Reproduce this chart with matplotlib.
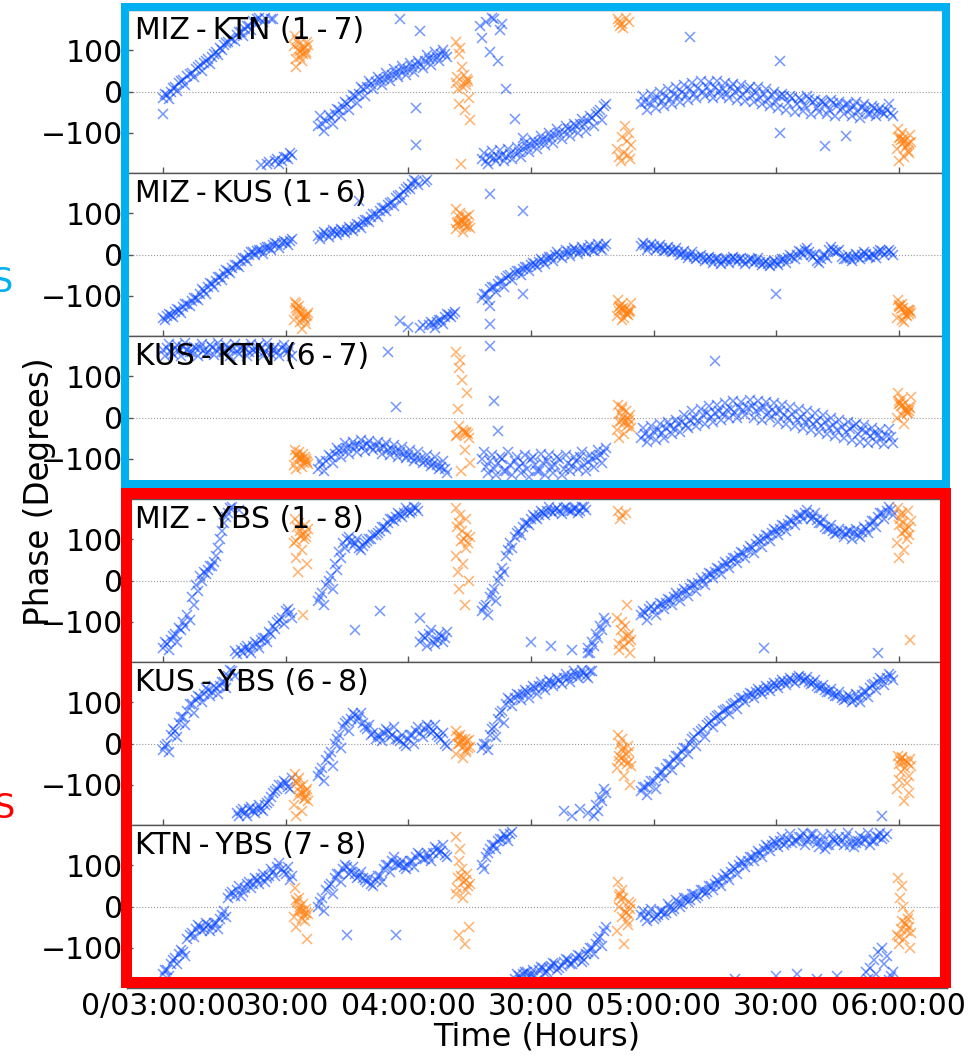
import numpy as np
import matplotlib
matplotlib.use("Agg")
import matplotlib.pyplot as plt
from matplotlib.patches import Rectangle

# ---------------- data (minutes after 03:00, phase in degrees) ----------------
SEG_START = [0, 38, 78, 117]          # start minute of each target scan
CAL_START = [32, 71.5, 111, 179.5]    # start minute of each calibrator scan
CAL_DT = [0.3, 2.1, 1.2, 3.0, 0.8, 2.6, 1.6, 0.1, 2.9, 1.9, 0.6, 3.3, 1.0, 2.3, 3.5,
          1.4, 0.5, 2.7, 1.8, 3.2]   # sample times inside a calibrator scan

LABELS = ["MIZ\u2009-\u2009KTN (1\u2009-\u20097)", "MIZ\u2009-\u2009KUS (1\u2009-\u20096)",
          "KUS\u2009-\u2009KTN (6\u2009-\u20097)", "MIZ\u2009-\u2009YBS (1\u2009-\u20098)",
          "KUS\u2009-\u2009YBS (6\u2009-\u20098)", "KTN\u2009-\u2009YBS (7\u2009-\u20098)"]

TICK_MIN = [0, 30, 60, 90, 120, 150, 180]
TICK_LABELS = ["0/03:00:00", "30:00", "04:00:00", "30:00", "05:00:00", "30:00", "06:00:00"]

# ---- panel 1 : MIZ-KTN  (x = first read, x2 = second read half a minute later)
p1_a = [-15, -8, 0, 10, 20, 28, 38, 45, 55, 65, 70, 78, 85, 95, 105, 112, 120, 128, 138,
        145, 152, 158, 172, 176, -178, 179, -172, 177, -165, -168, -158, -150]
p1_a2 = [-5, -18, 8, 2, 25, 15, 42, 35, 60, 50, 75, 68, 92, 88, 100, 118, 130, 122, 145,
         135, 160, 150, 165, 178, 170, -175, 175, -168, -175, -160, -165, -155]
p1_b = [-85, -80, -72, -65, -55, -45, -38, -30, -20, -12, -5, 5, 12, 18, 22, 28, 30, 35,
        40, 45, 50, 52, 55, 60, 65, 68, 75, 80, 82, 85, 90, 92]
p1_b2 = [-60, -95, -58, -78, -42, -60, -25, -45, -8, -28, 10, -10, 25, 5, 35, 15, 45, 25,
         55, 35, 62, 40, 70, 48, 75, 58, 88, 65, 95, 75, 100, 85]
p1_c = [-165, -168, -160, -162, -158, -155, -160, -152, -150, -148, -140, -135, -130,
        -125, -122, -118, -115, -110, -105, -100, -98, -92, -90, -85, -80, -78, -72,
        -65, -55, -45, -35]
p1_c2 = [-150, -175, -145, -170, -142, -168, -140, -165, -135, -158, -125, -148, -118,
         -140, -108, -130, -100, -125, -92, -115, -85, -108, -78, -100, -68, -95, -60,
         -85, -50, -70, -30]
p1_d = [-30, -25, -28, -20, -15, -22, -10, -18, -5, -12, 0, -8, 5, -5, 8, 0, 10, -3, 12,
        2, 5, -5, 10, 0, 3, -8, 5, -10, 0, -15, -5, -20, -8, -25, -12, -10, -28, -15,
        -30, -20, -35, -18, -25, -40, -22, -30, -45, -28, -35, -40, -30, -45, -35, -50,
        -38, -42, -55, -40, -48, -50, -45, -52]
p1_d2 = [-10, -45, -5, -40, 0, -35, 5, -30, 10, -25, 15, -20, 20, -15, 25, -12, 22, -15,
         25, -10, 20, -15, 18, -20, 15, -22, 12, -25, 10, -30, 5, -35, 0, -40, -5, -45,
         -10, -50, -15, -48, -12, -55, -20, -50, -25, -55, -20, -60, -25, -55, -30, -60,
         -25, -65, -30, -55, -35, -60, -40, -55, -30, -60]
p1_out_t = [0, 58, 62, 62, 63, 78, 80, 82, 84, 86, 88, 79, 81, 83, 129, 151, 162, 151,
            167, 77.5, 80.5, 82.5]
p1_out_v = [-55, 177, -41, -131, 146, 129, 97, 73, 5, -68, -114, 170, 175, 165, 133, 73,
            -133, -101, -109, 160, 178, 150]
p1_cal = [[135, 100, 115, 90, 125, 105, 85, 110, 95, 75, 60, 120, 102, 92, 112, 98, 80,
           108],
          [120, 40, 105, 25, 90, 15, 60, 20, 30, 10, 5, -15, -30, -45, -70, -177, 35, 22],
          [175, -85, 165, -100, 160, -120, 155, -140, 170, -150, -160, -165, -170, 178,
           -130, -110, 168, -155],
          [-90, -120, -100, -125, -110, -130, -115, -140, -150, -160, -170, -105, -118,
           -135, -122, -128, -112, -145]]

# ---- panel 2 : MIZ-KUS
p2_a = [-155, -150, -148, -140, -135, -128, -120, -112, -105, -95, -88, -80, -72, -65,
        -55, -48, -40, -32, -25, -15, -8, 0, 5, 8, 12, 15, 18, 22, 25, 28, 30, 32]
p2_a2 = [-160, -145, -152, -132, -142, -120, -125, -105, -110, -85, -95, -70, -78, -55,
         -62, -38, -45, -25, -30, -8, -15, 5, -2, 12, 2, 18, 10, 28, 15, 32, 22, 38]
p2_b = [45, 48, 50, 52, 55, 55, 58, 60, 62, 68, 72, 78, 85, 90, 98, 105, 112, 120, 128,
        138, 145, 152, 165, 172, 178, -178, 176, -172, -170, -165, -160, -152, -148, -145]
p2_b2 = [38, 55, 42, 60, 48, 62, 52, 68, 58, 75, 65, 85, 78, 98, 92, 112, 105, 125, 118,
         142, 132, 158, 158, 180, 170, -172, 180, -165, -178, -158, -170, -145, -152,
         -140]
p2_c = [-105, -95, -85, -80, -72, -65, -58, -50, -45, -40, -35, -30, -25, -22, -18, -15,
        -10, -5, -2, 0, 2, 5, 8, 10, 8, 12, 15, 12, 18, 15, 20]
p2_c2 = [-95, -110, -78, -90, -65, -78, -52, -62, -40, -50, -30, -40, -20, -30, -12, -22,
         -5, -15, 5, -8, 10, -3, 15, 2, 18, 5, 22, 8, 25, 10, 25]
p2_d = [20, 22, 18, 20, 15, 15, 12, 10, 8, 5, 2, 0, -2, -5, -5, -8, -10, -12, -12, -15,
        -15, -12, -10, -10, -12, -15, -15, -12, -15, -18, -20, -22, -20, -18, -15, -12,
        -8, -5, 0, 5, 10, 5, -5, -15, -10, 0, 10, 12, 5, -5, -10, -8, -5, -5, 0, 2, -5,
        0, 5, 8, 5, 5]
p2_d2 = [28, 12, 25, 12, 22, 8, 18, 5, 15, 0, 8, -8, 5, -12, 0, -15, -5, -20, -8, -22,
         -10, -20, -5, -18, -8, -22, -10, -20, -8, -25, -15, -28, -15, -25, -10, -20, -2,
         -12, 8, -2, 15, -2, 2, -20, 0, -8, 18, 5, 12, -12, 0, -15, 2, -12, 5, -5, 2, -8,
         12, 0, 12, -2]
p2_out_t = [48, 80, 88, 88, 80, 80, 58, 60, 150]
p2_out_v = [130, 146, 105, -97, -125, -169, -161, -175, -97]
p2_cal = [[-115, -145, -125, -150, -135, -155, -140, -160, -170, -180, -130, -148, -138,
           -152, -142, -165, -120, -158],
          [110, 75, 100, 70, 90, 68, 85, 62, 80, 55, 78, 95, 72, 88, 65, 82, 76, 92],
          [-110, -135, -120, -140, -125, -145, -130, -150, -135, -155, -128, -138, -132,
           -142, -118, -160, -137, -147],
          [-110, -140, -120, -145, -125, -150, -130, -155, -135, -165, -128, -138, -132,
           -148, -142, -158, -122, -136]]

# ---- panel 3 : KUS-KTN
p3_a = [165, 168, 160, 170, 162, 172, 165, 158, 168, 170, 163, 160, 172, 165, 168, 160,
        170, 165, 162, 170, 168, 160, 165, 172, 168, 162, 170, 165, 160, 168, 165, 170]
p3_a2 = [150, 178, 155, 175, 150, 180, 158, 172, 150, 178, 155, 175, 152, 180, 158, 175,
         150, 178, 155, 172, 150, 178, 158, 175, 150, 180, 155, 172, 150, 175, 158, 150]
p3_b = [-125, -115, -105, -95, -88, -82, -78, -75, -72, -70, -68, -70, -65, -72, -70,
        -75, -72, -78, -80, -82, -85, -88, -90, -95, -98, -100, -105, -108, -112, -115,
        -120, -125]
p3_b2 = [-105, -130, -90, -110, -75, -95, -62, -88, -60, -85, -55, -82, -58, -80, -60,
         -88, -62, -90, -68, -95, -72, -98, -78, -105, -85, -110, -90, -118, -95, -125,
         -105, -135]
p3_c = [-100, -120, -105, -125, -110, -100, -130, -115, -105, -120, -110, -125, -100,
        -115, -130, -110, -105, -120, -115, -100, -125, -110, -118, -105, -95, -115,
        -108, -100, -95, -90, -85]
p3_c2 = [-85, -135, -90, -140, -95, -130, -85, -140, -95, -135, -90, -145, -95, -130,
         -88, -140, -92, -135, -95, -140, -90, -130, -95, -125, -85, -130, -90, -120,
         -80, -110, -75]
p3_d = [-50, -40, -45, -35, -30, -38, -25, -20, -28, -15, -10, -18, -5, 0, -8, 5, 10, 2,
        12, 15, 8, 18, 20, 12, 25, 18, 22, 28, 15, 20, 25, 12, 18, 10, 15, 5, 0, 8, -5,
        2, -10, -5, -15, -8, -20, -12, -25, -18, -30, -22, -35, -28, -20, -40, -30, -35,
        -45, -38, -42, -50, -45, -48]
p3_d2 = [-25, -60, -20, -55, -15, -50, -10, -40, -5, -35, 5, -25, 15, -20, 20, -15, 28,
         -10, 30, -5, 35, 0, 40, 0, 38, 5, 42, 0, 40, -5, 38, -2, 35, -10, 30, -15, 25,
         -20, 20, -25, 15, -30, 10, -35, 5, -40, 0, -45, -5, -50, -10, -55, -15, -60,
         -18, -62, -25, -60, -30, -65, -28, -62]
p3_out_t = [15, 25, 57, 55, 80, 81, 82, 135]
p3_out_v = [-170, -168, 25, 160, 173, 40, -32, 137]
p3_cal = [[-80, -100, -85, -105, -90, -110, -95, -115, -100, -120, -92, -108, -98, -88,
           -112, -102, -125, -95],
          [160, -35, 140, -40, 120, -38, 90, -45, 60, -30, 20, -50, -20, -80, -110, -130,
           -42, -36],
          [30, -10, 20, -15, 10, -20, 0, -30, -5, -40, -50, 5, -8, 15, -25, 25, -12, -2],
          [60, 20, 45, 15, 35, 10, 30, 0, 25, -15, 40, 22, 28, 18, 50, 5, 32, 12]]

# ---- panel 4 : MIZ-YBS
p4_a = [-165, -155, -145, -130, -115, -100, -85, -40, -10, 10, 20, 25, 35, 60, 100, 140,
        165, 178, -178, -170, -165, -168, -160, -155, -145, -140, -125, -110, -100, -90,
        -75, -80]
p4_a2 = [-150, -170, -135, -150, -120, -110, -95, -60, -25, 0, 15, 35, 45, 80, 120, 155,
         175, -172, 172, -175, -160, -175, -150, -165, -140, -150, -130, -118, -95, -105,
         -70, -90]
p4_b = [-50, -30, -10, 10, 40, 70, 90, 100, 95, 90, 80, 85, 95, 100, 110, 120, 130, 140,
        150, 155, 160, 165, 170, 168, 175, -150, -140, -130, -150, -145, -135, -140]
p4_b2 = [-40, -60, 0, -20, 25, 55, 80, 105, 85, 100, 75, 90, 100, 110, 115, 130, 125,
         150, 145, 165, 155, 175, 165, 178, 170, -135, -160, -120, -155, -130, -150, -125]
p4_c = [-75, -60, -40, -20, 0, 30, 60, 90, 105, 120, 130, 140, 150, 155, 160, 165, 170,
        168, 172, 170, 175, 172, 168, 175, 170, 178, -165, -150, -130, -110, -90]
p4_c2 = [-65, -85, -30, -50, 10, 20, 75, 80, 115, 110, 140, 135, 160, 150, 170, 160, 178,
         165, 175, 162, 178, 168, 175, 165, 178, 172, -175, -160, -140, -120, -100]
p4_d = [-85, -78, -70, -72, -65, -58, -55, -48, -40, -38, -30, -25, -18, -10, -5, 0, 8,
        15, 20, 28, 35, 40, 48, 55, 60, 68, 75, 80, 88, 95, 100, 108, 115, 120, 125, 132,
        138, 145, 150, 158, 165, 160, 155, 148, 140, 130, 125, 120, 115, 118, 112, 120,
        115, 110, 118, 125, 135, 145, 155, 165, 170, 172]
p4_d2 = [-75, -95, -62, -85, -55, -70, -45, -60, -30, -50, -20, -38, -8, -25, 5, -10, 18,
         5, 30, 15, 45, 30, 55, 42, 70, 55, 85, 68, 100, 82, 110, 95, 125, 110, 135, 120,
         148, 135, 160, 150, 172, 150, 165, 140, 150, 125, 135, 112, 125, 105, 120, 100,
         125, 105, 130, 115, 145, 130, 165, 150, 178, 160]
p4_out_t = [47, 53, 63, 90, 95, 100, 104, 147, 175]
p4_out_v = [-120, -75, -90, -150, -160, -170, -175, -165, -175]
p4_cal = [[150, 110, 140, 105, 130, 100, 120, 90, 115, 75, 55, 40, 20, -85, 125, 108,
           95, 135],
          [175, 100, 160, 90, 140, 80, 120, 60, 110, 40, 20, 0, -20, -60, 105, 95, 130,
           150],
          [170, -110, 160, -130, 150, -60, -140, -90, -150, -160, -170, -175, -120, 165,
           -145, -100, -155, -135],
          [175, 120, 165, 110, 150, 100, 140, 90, 130, 75, 55, -145, 160, 125, 145, 115,
           135, 170]]

# ---- panel 5 : KUS-YBS
p5_a = [-15, 0, 20, 30, 50, 65, 80, 95, 105, 114, 120, 130, 125, 135, 140, 150, 165, 175,
        -170, -165, -170, -160, -165, -158, -160, -150, -140, -120, -110, -100, -95, -110]
p5_a2 = [-5, -20, 35, 15, 65, 45, 95, 75, 115, 100, 135, 115, 140, 120, 150, 135, 178,
         165, -175, -160, -175, -155, -170, -150, -165, -145, -130, -115, -100, -90, -105,
         -85]
p5_b = [-80, -60, -40, -20, 0, 20, 40, 55, 60, 70, 65, 50, 35, 20, 10, 15, 25, 30, 20,
        10, 5, 0, 10, 20, 30, 25, 35, 40, 30, 20, 10, 0]
p5_b2 = [-70, -90, -30, -55, 10, -10, 50, 30, 75, 55, 75, 40, 45, 25, 20, 5, 35, 15, 40,
         10, 20, -5, 20, 0, 40, 15, 45, 25, 45, 15, 25, -5]
p5_c = [-10, 0, 20, 40, 60, 80, 95, 105, 110, 118, 120, 125, 130, 135, 140, 138, 145,
        150, 148, 155, 160, 158, 165, 170, 168, 172, 160, 175, -150, -130, -110]
p5_c2 = [0, -15, 35, 15, 75, 50, 110, 90, 120, 105, 130, 110, 140, 120, 150, 130, 155,
         140, 160, 145, 170, 150, 175, 160, 178, 165, 175, -175, -165, -140, -120]
p5_d = [-115, -105, -100, -90, -80, -70, -60, -50, -40, -30, -20, -10, 0, 15, 25, 35, 45,
        55, 62, 70, 78, 85, 90, 98, 105, 110, 115, 120, 125, 128, 130, 135, 140, 142,
        148, 150, 152, 155, 158, 160, 155, 150, 148, 140, 135, 130, 125, 120, 115, 110,
        108, 112, 105, 110, 118, 125, 135, 145, 150, 155, 160, 165]
p5_d2 = [-105, -125, -90, -110, -70, -85, -50, -65, -30, -45, -10, -25, 10, -5, 30, 15,
         50, 40, 68, 55, 82, 72, 95, 85, 110, 100, 122, 110, 132, 120, 140, 128, 148, 135,
         155, 142, 160, 148, 165, 152, 162, 145, 155, 135, 142, 125, 132, 115, 125, 105,
         118, 100, 120, 102, 128, 112, 142, 130, 158, 142, 170, 155]
p5_out_t = [98, 100, 102, 104, 176]
p5_out_v = [-165, -175, -160, -170, -175]
p5_cal = [[-75, -120, -85, -125, -95, -135, -105, -150, -115, -165, -175, -110, -128,
           -100, -140, -118, -90, -132],
          [30, -5, 20, -10, 15, -15, 10, -25, 5, -35, 0, 8, -2, 12, -8, 3, 18, -20],
          [20, -40, 10, -45, 0, -50, -10, -60, -20, -80, -30, -100, -35, -25, -55, -15,
           -42, -5],
          [-30, -60, -35, -80, -40, -95, -45, -110, -120, -140, -50, -38, -70, -42, -55,
           -32, -88, -48]]

# ---- panel 6 : KTN-YBS
p6_a = [-165, -155, -140, -125, -115, -110, -80, -65, -55, -50, -55, -45, -50, -40, -30,
        -10, 20, 35, 40, 25, 45, 60, 55, 65, 70, 60, 75, 85, 95, 90, 80, 65]
p6_a2 = [-155, -170, -130, -140, -105, -120, -70, -75, -45, -60, -40, -60, -40, -55, -20,
         -25, 30, 25, 50, 35, 55, 45, 70, 55, 80, 70, 90, 75, 105, 85, 95, 75]
p6_b = [0, 20, 40, 55, 70, 80, 90, 95, 85, 80, 75, 70, 60, 55, 65, 75, 90, 100, 110, 105,
        100, 95, 100, 110, 120, 125, 115, 120, 130, 140, 135, 125]
p6_b2 = [10, -10, 50, 30, 80, 60, 100, 80, 95, 70, 85, 65, 70, 50, 75, 60, 100, 85, 120,
         100, 110, 90, 110, 95, 130, 115, 130, 110, 145, 130, 150, 120]
p6_c = [100, 120, 140, 150, 160, 165, 170, 175, -175, -170, -165, -160, -165, -170, -155,
        -150, -160, -145, -140, -150, -135, -130, -140, -125, -120, -130, -110, -100,
        -90, -75, -60]
p6_c2 = [90, 130, 150, 140, 165, 175, 160, 180, -165, -178, -158, -172, -155, -178,
         -148, -162, -150, -138, -155, -145, -128, -140, -132, -118, -135, -115, -100,
         -115, -80, -95, -50]
p6_d = [-20, -25, -15, -30, -20, -10, -15, 0, -5, 10, 5, 20, 15, 30, 25, 40, 35, 50, 55,
        60, 70, 75, 85, 90, 100, 105, 110, 120, 125, 130, 140, 145, 150, 155, 160, 150,
        165, 155, 160, 170, 150, 165, 175, 155, 160, 140, 150, 165, 155, 160, 170, 150,
        145, 160, 155, 165, 150, 160, 170, 165, 175, -170]
p6_d2 = [-10, -35, -5, -25, -10, -20, 5, -10, 15, 0, 20, 10, 30, 20, 40, 30, 50, 40, 65,
         50, 80, 65, 95, 80, 110, 95, 120, 110, 135, 120, 150, 135, 160, 145, 170, 155,
         175, 160, 170, 178, 160, 175, 165, 145, 172, 150, 175, 160, 170, 150, 178, 160,
         155, 172, 165, 178, 160, 172, 178, 170, -178, -160]
p6_out_t = [45, 57, 140, 150, 155, 160, 165, 172, 173, 174, 175, 176, 177, 172.5, 174.5,
            176.5]
p6_out_v = [-70, -70, -175, -170, -165, -175, -170, -160, -150, -130, -110, -100, -120,
            -175, -165, -140]
p6_cal = [[45, -10, 20, -15, 10, -20, 0, -25, -5, -30, -50, -80, -12, 5, -18, -8, 15,
           -35],
          [170, 60, 140, 50, 110, 40, 90, 30, 80, 20, 70, -50, -70, -90, 55, 75, 45, 65],
          [60, -10, 40, -20, 30, -35, 20, -60, 10, -90, 0, -5, 15, -15, 5, -25, 25, -45],
          [70, -40, 50, -50, 20, -60, 0, -70, -20, -80, -90, -100, -55, -45, -65, -35,
           -75, -30]]

SEGMENTS = [[p1_a, p1_b, p1_c, p1_d], [p2_a, p2_b, p2_c, p2_d], [p3_a, p3_b, p3_c, p3_d],
            [p4_a, p4_b, p4_c, p4_d], [p5_a, p5_b, p5_c, p5_d], [p6_a, p6_b, p6_c, p6_d]]
SEGMENTS2 = [[p1_a2, p1_b2, p1_c2, p1_d2], [p2_a2, p2_b2, p2_c2, p2_d2],
             [p3_a2, p3_b2, p3_c2, p3_d2], [p4_a2, p4_b2, p4_c2, p4_d2],
             [p5_a2, p5_b2, p5_c2, p5_d2], [p6_a2, p6_b2, p6_c2, p6_d2]]
OUTLIERS = [(p1_out_t, p1_out_v), (p2_out_t, p2_out_v), (p3_out_t, p3_out_v),
            (p4_out_t, p4_out_v), (p5_out_t, p5_out_v), (p6_out_t, p6_out_v)]
CALS = [p1_cal, p2_cal, p3_cal, p4_cal, p5_cal, p6_cal]

# ---------------- figure ----------------
W, H = 974, 1059
fig = plt.figure(figsize=(W / 100, H / 100), dpi=100)
plt.rcParams['font.family'] = ['DejaVu Sans']


def fx(px):
    return px / W


def fy(py):
    return 1 - py / H


left, right = fx(127), fx(947)
top, bottom = fy(10), fy(988)
gs = fig.add_gridspec(6, 1, left=left, right=right, top=top, bottom=bottom, hspace=0)

BLUE = '#0040ff'
ORANGE = '#ff7f0e'
ms = 7
kw_b = dict(ls='none', marker='x', ms=ms, mew=1.1, color=BLUE, alpha=0.55)
kw_o = dict(ls='none', marker='x', ms=ms, mew=1.1, color=ORANGE, alpha=0.6)
axes = []
for i in range(6):
    ax = fig.add_subplot(gs[i, 0])
    axes.append(ax)
    ax.axhline(0, color='#999999', lw=0.8, ls=':', zorder=0)
    for k, vals in enumerate(SEGMENTS[i]):
        ax.plot(SEG_START[k] + np.arange(len(vals)), vals, **kw_b)
    for k, vals in enumerate(SEGMENTS2[i]):
        ax.plot(SEG_START[k] + 0.5 + np.arange(len(vals)), vals, **kw_b)
    ot, ov = OUTLIERS[i]
    ax.plot(ot, ov, **kw_b)
    for k, vals in enumerate(CALS[i]):
        t = CAL_START[k] + np.array(CAL_DT[:len(vals)])
        ax.plot(t, vals, **kw_o)
    ax.set_xlim(-8.8, 191.8)
    ax.set_ylim(-198, 198)
    ax.set_yticks([-100, 0, 100])
    ax.set_xticks(TICK_MIN)
    ax.tick_params(direction='in', length=4, width=1, color='#555555', labelsize=21.5,
                   pad=3)
    for s in ax.spines.values():
        s.set_color('#555555')
        s.set_linewidth(1)
    if i < 5:
        ax.set_xticklabels([])
    else:
        ax.set_xticklabels(TICK_LABELS)
    ax.text(0.01, 0.965, LABELS[i], transform=ax.transAxes, ha='left', va='top',
            fontsize=21.5, color='black')

axes[-1].set_xlabel("Time (Hours)", fontsize=23, labelpad=0)
fig.text(fx(40), fy(492), "Phase (Degrees)", rotation=90, ha='center', va='center',
         fontsize=23.5)

# highlight boxes
blue_rect = Rectangle((fx(124.5), fy(484)), fx(946 - 124.5), (484 - 7) / H,
                      transform=fig.transFigure, fill=False, ec='#00b0f0',
                      lw=8 * 0.72, zorder=10, clip_on=False)
red_rect = Rectangle((fx(126), fy(982)), fx(945 - 126), (982 - 493) / H,
                     transform=fig.transFigure, fill=False, ec='#ff0000',
                     lw=11 * 0.72, zorder=11, clip_on=False)
fig.add_artist(blue_rect)
fig.add_artist(red_rect)

fig.text(fx(13), fy(282), "S", color='#00b0f0', fontsize=24, ha='right', va='center')
fig.text(fx(15), fy(808), "S", color='#ff0000', fontsize=24, ha='right', va='center')

fig.savefig("out.png", dpi=100)
